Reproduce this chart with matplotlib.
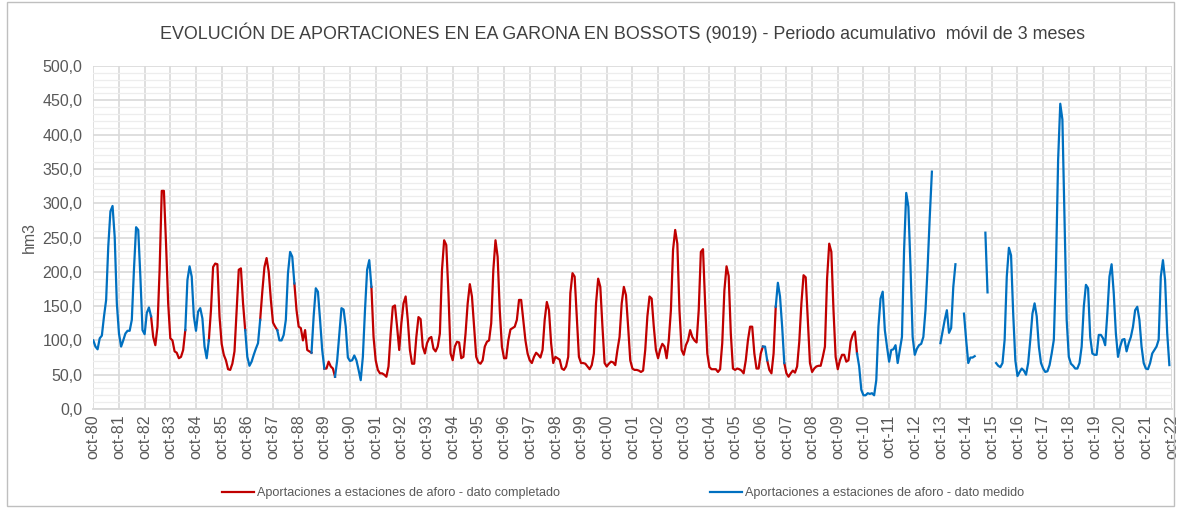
import numpy as np
import matplotlib
matplotlib.use("Agg")
import matplotlib.pyplot as plt
from matplotlib.lines import Line2D
from matplotlib.patches import Rectangle
from matplotlib.ticker import FixedLocator, MultipleLocator, FuncFormatter

nan = np.nan

# Monthly 3-month moving cumulative inflow (hm3), oct-80 ... sep-22
valores = [
    100, 91, 87, 103, 107, 135, 159, 237, 288, 296, 251, 154,      # 80-81
    110, 91, 100, 110, 114, 114, 130, 203, 265, 261, 193, 115,     # 81-82
    109, 140, 148, 135, 105, 93, 120, 203, 318, 318, 241, 154,     # 82-83
    103, 100, 84, 82, 74, 76, 86, 115, 188, 208, 193, 135,         # 83-84
    114, 142, 147, 132, 91, 74, 100, 144, 207, 212, 211, 135,      # 84-85
    95, 79, 71, 58, 57, 66, 84, 144, 203, 205, 154, 115,           # 85-86
    76, 63, 69, 79, 88, 96, 130, 171, 207, 220, 200, 159,          # 86-87
    126, 120, 115, 100, 100, 108, 130, 198, 229, 222, 183, 144,    # 87-88
    120, 118, 100, 115, 86, 84, 82, 135, 176, 171, 130, 86,        # 88-89
    59, 59, 69, 62, 59, 47, 71, 110, 147, 145, 120, 75,            # 89-90
    70, 71, 78, 71, 57, 42, 76, 144, 203, 217, 178, 105,           # 90-91
    71, 57, 52, 52, 50, 47, 62, 110, 149, 151, 120, 86,            # 91-92
    125, 154, 164, 130, 86, 66, 66, 105, 134, 131, 91, 81,         # 92-93
    96, 103, 105, 88, 84, 91, 110, 203, 246, 239, 169, 81,         # 93-94
    71, 91, 98, 97, 74, 76, 110, 154, 182, 164, 120, 76,           # 94-95
    68, 66, 71, 91, 98, 100, 125, 203, 246, 222, 144, 91,          # 95-96
    74, 74, 100, 116, 118, 120, 130, 159, 159, 130, 100, 81,       # 96-97
    71, 67, 76, 82, 79, 75, 86, 130, 156, 144, 96, 67,             # 97-98
    76, 74, 72, 59, 57, 62, 76, 169, 198, 193, 135, 76,            # 98-99
    67, 67, 66, 62, 58, 64, 81, 154, 190, 178, 120, 67,            # 99-00
    62, 66, 69, 68, 64, 86, 105, 154, 178, 166, 120, 71,           # 00-01
    59, 57, 57, 56, 54, 56, 86, 135, 164, 161, 120, 86,            # 01-02
    74, 87, 95, 91, 74, 100, 144, 232, 261, 241, 144, 86,          # 02-03
    79, 93, 100, 115, 105, 100, 97, 144, 229, 233, 154, 81,        # 03-04
    61, 58, 58, 58, 54, 58, 96, 173, 208, 194, 110, 59,            # 04-05
    57, 59, 58, 56, 52, 71, 100, 120, 120, 81, 59, 59,             # 05-06
    81, 91, 91, 71, 57, 52, 81, 149, 184, 164, 120, 67,            # 06-07
    52, 47, 52, 56, 53, 62, 98, 154, 195, 192, 130, 67,            # 07-08
    54, 59, 62, 63, 63, 76, 91, 190, 241, 229, 144, 76,            # 08-09
    58, 71, 79, 79, 69, 71, 98, 108, 113, 81, 62, 28,              # 09-10
    20, 20, 23, 22, 23, 20, 42, 120, 161, 171, 115, 91,            # 10-11
    69, 86, 87, 93, 67, 86, 105, 232, 315, 295, 207, 105,          # 11-12
    79, 88, 93, 95, 105, 144, 207, 280, 346, nan, nan, nan,        # 12-13
    96, 113, 130, 144, 111, 118, 178, 211, nan, nan, nan, 139,     # 13-14
    101, 67, 75, 75, 77, nan, nan, nan, nan, 257, 170, nan,        # 14-15
    nan, nan, 67, 63, 61, 67, 101, 193, 235, 224, 139, 71,         # 15-16
    48, 54, 59, 56, 50, 67, 101, 139, 154, 135, 91, 67,            # 16-17
    59, 54, 55, 64, 81, 101, 207, 363, 445, 422, 276, 130,         # 17-18
    76, 66, 63, 59, 59, 67, 91, 149, 181, 176, 105, 81,            # 18-19
    79, 79, 108, 108, 103, 93, 139, 193, 211, 169, 110, 76,        # 19-20
    91, 101, 102, 84, 96, 105, 120, 144, 149, 130, 91, 67,         # 20-21
    59, 58, 67, 81, 86, 91, 101, 193, 217, 188, 110, 64,           # 21-22
]

# (first month index, type) : 'M' = dato medido, 'C' = dato completado
tramos = [(0, 'M'), (27, 'C'), (43, 'M'), (54, 'C'), (71, 'M'), (78, 'C'),
          (86, 'M'), (94, 'C'), (102, 'M'), (108, 'C'), (113, 'M'), (130, 'C'),
          (313, 'M'), (315, 'C'), (319, 'M'), (323, 'C'), (357, 'M')]

etiquetas_x = ['oct-80', 'oct-81', 'oct-82', 'oct-83', 'oct-84', 'oct-85', 'oct-86',
               'oct-87', 'oct-88', 'oct-89', 'oct-90', 'oct-91', 'oct-92', 'oct-93',
               'oct-94', 'oct-95', 'oct-96', 'oct-97', 'oct-98', 'oct-99', 'oct-00',
               'oct-01', 'oct-02', 'oct-03', 'oct-04', 'oct-05', 'oct-06', 'oct-07',
               'oct-08', 'oct-09', 'oct-10', 'oct-11', 'oct-12', 'oct-13', 'oct-14',
               'oct-15', 'oct-16', 'oct-17', 'oct-18', 'oct-19', 'oct-20', 'oct-21',
               'oct-22']

titulo = "EVOLUCIÓN DE APORTACIONES EN EA GARONA EN BOSSOTS (9019) - Periodo acumulativo  móvil de 3 meses"
leyenda = ["Aportaciones a estaciones de aforo - dato completado",
           "Aportaciones a estaciones de aforo - dato medido"]

# ---------------------------------------------------------------------------
vals = np.array(valores, dtype=float)
n = len(vals)
estado = np.empty(n, dtype='<U1')
for k, (ini, t) in enumerate(tramos):
    fin = tramos[k + 1][0] if k + 1 < len(tramos) else n
    estado[ini:fin] = t

comp = np.full(n, nan)
med = np.full(n, nan)
for i in range(n):
    prev = estado[i - 1] if i > 0 else estado[i]
    if estado[i] == 'C' or prev == 'C':
        comp[i] = vals[i]
    if estado[i] == 'M' or prev == 'M':
        med[i] = vals[i]
x = np.arange(n)

RED = '#C00000'
BLUE = '#0070C0'
TXT = '#595959'
GRID = '#D9D9D9'
font = 'Liberation Sans'
plt.rcParams['font.family'] = [font, 'DejaVu Sans']

W, H = 1181, 508
fig = plt.figure(figsize=(W / 100, H / 100), dpi=100)
fig.patch.set_facecolor('white')

x0, x1 = 93.3, 1171.5
y0, y1 = 409, 66
ax = fig.add_axes([x0 / W, 1 - y0 / H, (x1 - x0) / W, (y0 - y1) / H])

ax.plot(x, comp, color=RED, lw=1.6, solid_joinstyle='round', zorder=3)
ax.plot(x, med, color=BLUE, lw=1.6, solid_joinstyle='round', zorder=3)

ax.set_xlim(0, 504)
ax.set_ylim(0, 500)

ax.yaxis.set_major_locator(MultipleLocator(50))
ax.yaxis.set_minor_locator(MultipleLocator(10))
ax.yaxis.set_major_formatter(FuncFormatter(lambda v, p: f"{v:.1f}".replace('.', ',')))
ax.xaxis.set_major_locator(FixedLocator(np.arange(0, 505, 12)))
ax.set_xticklabels(etiquetas_x, rotation=90)

ax.grid(which='major', axis='both', color=GRID, lw=1.2, zorder=0)
ax.grid(which='minor', axis='y', color='#EDEDED', lw=0.9, zorder=0)
ax.set_axisbelow(True)
for s in ['top', 'right', 'left']:
    ax.spines[s].set_visible(False)
ax.spines['bottom'].set_color(GRID)
ax.spines['bottom'].set_linewidth(1.3)
ax.tick_params(axis='both', which='both', length=0, labelsize=11.5, colors=TXT, pad=8)
ax.tick_params(axis='x', pad=4)

ax.set_ylabel('hm3', fontsize=11.5, color=TXT, labelpad=4)

fig.text(0.527, 1 - 33 / H, titulo, ha='center', va='center', fontsize=12.9, color='#404040')

h1 = Line2D([], [], color=RED, lw=1.6)
h2 = Line2D([], [], color=BLUE, lw=1.6)
for h, lab, xa in [(h1, leyenda[0], 222), (h2, leyenda[1], 710)]:
    lg = fig.legend([h], [lab], loc='center left', bbox_to_anchor=(xa / W, 1 - 493 / H),
                    frameon=False, borderpad=0, borderaxespad=0, handlelength=2.5,
                    handletextpad=0.25, fontsize=9.1)
    for t in lg.get_texts():
        t.set_color(TXT)

fig.patches.append(Rectangle((7 / W, 2 / H), (W - 14) / W, (H - 4) / H, transform=fig.transFigure,
                             fill=False, edgecolor='#BFBFBF', lw=1.0))

fig.savefig('out.png', dpi=100)
